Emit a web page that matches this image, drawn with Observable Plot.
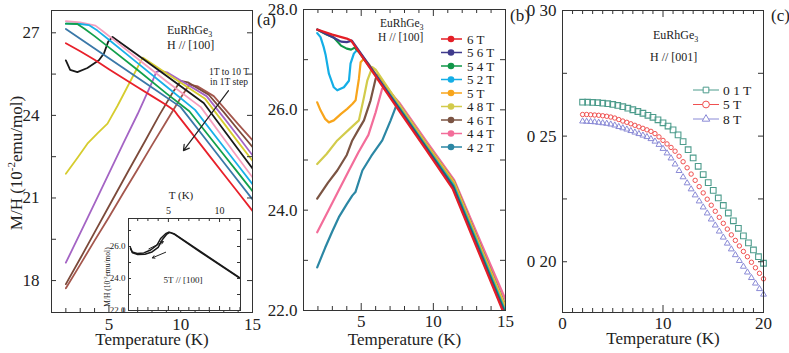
<!DOCTYPE html>
<html><head><meta charset="utf-8">
<script src="https://cdn.jsdelivr.net/npm/d3@7"></script>
<script src="https://cdn.jsdelivr.net/npm/@observablehq/plot@0.6"></script>
<style>
body{margin:0;background:#fff}
#wrap{position:relative;width:789px;height:353px;overflow:hidden;background:#fff}
#wrap svg{position:absolute;overflow:visible;max-width:none}
</style></head><body><div id="wrap"></div>
<script>
// ---------- Panel (a): EuRhGe3, H // [100], 1 T .. 10 T ----------
const aFields = ["1T","2T","3T","4T","5T","6T","7T","8T","9T","10T"];
const a1T = [[2.0,17.72],[3.0,18.58],[4.0,19.45],[5.0,20.3],[6.0,21.18],[6.95,22.0],[8.0,22.92],[9.0,23.78],[10.0,24.64],[10.6,25.12],[11.2,25.05],[12.3,24.7],[13.0,24.28],[14.0,23.68],[15.0,23.1]];
const a2T = [[2.0,17.87],[3.0,18.8],[4.0,19.75],[5.0,20.7],[6.37,22.0],[7.5,23.05],[8.5,24.0],[9.5,24.88],[10.0,25.25],[10.5,25.2],[11.95,24.75],[13.0,24.12],[14.0,23.48],[15.0,22.85]];
const a3T = [[2.0,18.65],[3.0,19.72],[4.0,20.8],[5.1,22.0],[6.0,22.98],[7.0,24.05],[8.0,25.2],[8.3,25.58],[8.6,25.62],[9.1,25.55],[11.8,24.7],[13.0,23.92],[14.0,23.24],[15.0,22.55]];
const a4T = [[2.0,21.88],[2.8,22.45],[3.5,22.97],[4.2,23.35],[4.9,23.7],[5.6,24.35],[6.4,25.15],[7.0,25.75],[7.35,26.1],[9.0,25.53],[11.7,24.6],[13.0,23.72],[14.0,23.03],[15.0,22.35]];
const a5T = [[2.0,26.0],[2.3,25.65],[2.8,25.57],[3.5,25.72],[4.3,26.0],[4.65,26.25],[4.95,26.68],[5.25,26.85],[7.0,26.19],[9.0,25.44],[11.6,24.45],[13.0,23.47],[14.0,22.77],[15.0,22.07]];
const a6T = [[2.0,27.42],[3.0,27.38],[4.06,27.26],[4.6,27.05],[5.5,26.68],[7.0,26.06],[9.0,25.24],[11.4,24.3],[13.0,23.16],[14.0,22.45],[15.0,21.75]];
const a7T = [[2.0,27.33],[3.0,27.32],[3.6,27.28],[4.2,27.08],[5.0,26.75],[7.0,25.9],[9.0,25.05],[11.0,24.2],[13.0,22.85],[14.0,22.18],[15.0,21.5]];
const a8T = [[2.0,27.33],[2.8,27.32],[3.3,27.15],[4.0,26.88],[5.0,26.47],[7.0,25.65],[9.0,24.8],[10.6,24.15],[13.0,22.57],[14.0,21.91],[15.0,21.25]];
const a9T = [[2.0,27.14],[4.0,26.43],[6.0,25.72],[8.0,25.01],[10.0,24.3],[12.0,22.96],[13.0,22.29],[15.0,20.95]];
const a10T = [[2.0,26.62],[3.0,26.33],[4.0,26.02],[5.0,25.68],[6.0,25.35],[7.0,25.02],[8.0,24.7],[9.0,24.38],[9.55,24.18],[9.8,24.0],[11.0,23.2],[12.0,22.53],[13.0,21.86],[14.0,21.2],[15.0,20.53]];
const aColors = ["#a4574d","#7c4a3a","#a464c4","#d6cc2e","#1a1a1a","#f59fbe","#18b0e8","#12a04c","#3a78a8","#e8202a"];
const aArrow = [{x1:13.33,y1:24.9,x2:10.19,y2:22.72}];

// inset: 5 T // [100], heating and cooling
const insetHeat = [[1.3,25.92],[1.46,25.66],[1.95,25.56],[2.6,25.6],[3.26,25.78],[3.9,26.1],[4.24,26.5],[4.73,26.8],[5.05,26.9],[5.54,26.8],[8.2,25.66],[12.0,24.04]];
const insetCool = [[1.3,25.86],[1.5,25.6],[2.0,25.5],[2.7,25.52],[3.4,25.66],[4.0,25.95],[4.4,26.42],[4.85,26.78],[5.15,26.88],[5.6,26.76],[8.2,25.62],[12.0,24.0]];
const insetArrows = [{x1:3.09,y1:25.85,x2:4.5,y2:26.3},{x1:4.73,y1:25.64,x2:3.43,y2:25.29}];

// ---------- Panel (b): EuRhGe3, H // [100], 4.2 .. 6 T ----------
const bNames = ["6 T","5 6 T","5 4 T","5 2 T","5 T","4 8 T","4 6 T","4 4 T","4 2 T"];
const b6T  = [[1.95,27.6],[3.0,27.5],[4.0,27.42],[4.3,27.38],[5.4,26.92],[7.7,25.95],[9.5,25.2],[11.33,24.43],[13.0,23.26],[15.0,21.86]];
const b56T = [[1.95,27.6],[3.0,27.45],[3.6,27.36],[4.0,27.35],[4.35,27.38],[5.4,26.95],[7.7,25.98],[9.5,25.23],[11.35,24.46],[13.0,23.3],[15.0,21.9]];
const b54T = [[1.95,27.6],[2.6,27.5],[3.1,27.44],[3.6,27.28],[4.0,27.22],[4.3,27.2],[4.55,27.24],[4.85,27.15],[7.7,26.0],[9.5,25.25],[11.37,24.48],[13.0,23.34],[15.0,21.94]];
const b52T = [[1.95,27.53],[2.18,27.45],[2.4,27.25],[2.53,27.1],[2.76,26.72],[3.1,26.45],[3.34,26.39],[3.8,26.45],[4.15,26.58],[4.26,26.92],[4.49,27.12],[4.73,27.2],[5.0,27.1],[7.7,26.02],[9.5,25.27],[11.4,24.5],[13.0,23.38],[15.0,21.98]];
const b5T  = [[1.95,26.15],[2.18,25.99],[2.5,25.82],[2.76,25.75],[3.1,25.79],[3.6,25.92],[4.03,26.02],[4.4,26.12],[4.61,26.19],[4.84,26.62],[4.96,26.95],[5.19,27.02],[5.5,26.92],[7.7,26.04],[9.5,25.3],[11.42,24.53],[13.0,23.42],[15.0,22.02]];
const b48T = [[1.95,24.92],[2.6,25.12],[3.34,25.39],[4.2,25.62],[4.84,25.79],[5.19,26.25],[5.42,26.58],[5.77,26.85],[6.0,26.8],[7.7,26.08],[9.5,25.33],[11.44,24.56],[13.0,23.46],[15.0,22.08]];
const b46T = [[1.95,24.23],[2.7,24.55],[3.34,24.79],[4.0,25.1],[4.38,25.39],[4.8,25.6],[5.19,25.79],[5.65,26.19],[6.0,26.62],[6.15,26.7],[7.7,26.08],[9.5,25.33],[11.45,24.56],[13.0,23.47],[15.0,22.1]];
const b44T = [[1.95,23.56],[2.7,23.98],[3.4,24.37],[4.15,24.79],[4.8,25.15],[5.5,25.5],[6.0,25.95],[6.45,26.42],[6.7,26.45],[7.7,26.12],[9.5,25.38],[11.45,24.6],[13.0,23.55],[15.0,22.22]];
const b42T = [[1.95,22.86],[2.5,23.25],[3.0,23.58],[3.45,23.86],[4.0,24.12],[4.38,24.29],[4.6,24.36],[5.08,24.79],[5.7,25.08],[6.46,25.39],[7.04,25.79],[7.45,26.1],[9.5,25.24],[11.38,24.45],[13.0,23.32],[15.0,22.0]];
const bColors = ["#e41e26","#3f3a8c","#109648","#14aee6","#f8a51b","#d2cb4b","#7b5443","#f36d9a","#2b87a4"];

// ---------- Panel (c): EuRhGe3, H // [001] ----------
const cNames = ["0 1 T","5 T","8 T"];
const sqT = [2,2.5,3,3.5,4,4.5,5,5.5,6,6.5,7,7.5,8,8.5,9,9.5,10,10.5,11,11.5,12,12.5,13,13.5,14,14.5,15,15.5,16,16.5,17,17.5,18,18.5,19,19.5,20];
const sqM = [.2635,.2635,.2634,.2633,.2631,.2629,.2626,.2622,.2617,.2611,.2605,.2598,.2591,.2583,.2575,.2565,.2553,.2540,.2525,.2505,.2478,.2446,.2413,.2380,.2347,.2315,.2284,.2254,.2224,.2194,.2163,.2133,.2103,.2075,.2047,.2020,.1994];
const ciT = [2.0,2.4,2.8,3.2,3.6,4.0,4.4,4.8,5.2,5.6,6.0,6.4,6.8,7.2,7.6,8.0,8.4,8.8,9.2,9.6,10.0,10.4,10.8,11.2,11.6,12.0,12.4,12.8,13.2,13.6,14.0,14.4,14.8,15.2,15.6,16.0,16.4,16.8,17.2,17.6,18.0,18.4,18.8,19.2,19.6,20.0];
const ciM = [.2586,.2586,.2585,.2584,.2583,.2581,.2579,.2576,.2572,.2566,.2560,.2555,.2549,.2543,.2537,.2531,.2525,.2519,.2510,.2497,.2483,.2469,.2455,.2440,.2420,.2398,.2374,.2349,.2324,.2299,.2274,.2249,.2225,.2201,.2177,.2153,.2130,.2107,.2085,.2063,.2041,.2020,.1998,.1976,.1954,.1932];
const trT = [2.0,2.4,2.8,3.2,3.6,4.0,4.4,4.8,5.2,5.6,6.0,6.4,6.8,7.2,7.6,8.0,8.4,8.8,9.2,9.6,10.0,10.4,10.8,11.2,11.6,12.0,12.4,12.8,13.2,13.6,14.0,14.4,14.8,15.2,15.6,16.0,16.4,16.8,17.2,17.6,18.0,18.4,18.8,19.2,19.6,20.0];
const trM = [.2559,.2558,.2557,.2556,.2554,.2552,.2550,.2547,.2543,.2537,.2532,.2527,.2521,.2515,.2509,.2503,.2497,.2489,.2479,.2466,.2450,.2432,.2412,.2388,.2362,.2337,.2313,.2289,.2265,.2241,.2217,.2193,.2169,.2145,.2121,.2097,.2073,.2050,.2027,.2004,.1981,.1958,.1936,.1914,.1892,.1870];
const cColors = ["#4d9c8c","#f05050","#8a8ad6"];
const cTickVals = [0.20,0.25,0.30];
const cTickLabels = ["0 20","0 25","0 30"];

// ---------- helpers ----------
const FONT = '"Liberation Serif","Times New Roman",serif';
const INK = "#222";
const wrap = document.getElementById("wrap");
const baseStyle = {fontFamily: FONT, color: INK, background: "transparent", overflow: "visible"};

function frameTicks(w, h, {xMinor = [], xMajor = [], yTicks = [], top = false, minor = 4, major = 7, ylen = 5}) {
  const s = {stroke: "#333", strokeWidth: 1};
  const m = [
    Plot.tickX(xMinor, {x: d => d, insetTop: h - minor, ...s}),
    Plot.tickX(xMajor, {x: d => d, insetTop: h - major, ...s}),
    Plot.tickY(yTicks, {y: d => d, insetRight: w - ylen, ...s}),
    Plot.tickY(yTicks, {y: d => d, insetLeft: w - ylen, ...s})
  ];
  if (top) m.push(
    Plot.tickX(xMinor, {x: d => d, insetBottom: h - minor, ...s}),
    Plot.tickX(xMajor, {x: d => d, insetBottom: h - major, ...s}));
  return m;
}
function place(svg, left, top) {
  svg.style.position = "absolute";
  svg.style.left = left + "px";
  svg.style.top = top + "px";
  wrap.appendChild(svg);
  return svg;
}
function txt(svg, x, y, parts, size, anchor = "start", transform = null) {
  const t = d3.select(svg).append("text").attr("x", x).attr("y", y)
    .attr("font-family", FONT).attr("font-size", size).attr("fill", INK).attr("text-anchor", anchor);
  if (transform) t.attr("transform", transform);
  for (const p of parts) {
    if (typeof p === "string") { t.append("tspan").text(p); continue; }
    const s = t.append("tspan").text(p.t);
    if (p.size) s.attr("font-size", p.size);
    if (p.dy) s.attr("dy", p.dy);
  }
  return t;
}
const rows = (series, names) => series.flatMap((pts, i) => pts.map(([T, M]) => ({field: names[i], T, M})));

// ---------- Panel (a) ----------
const aRows = rows([a1T,a2T,a3T,a4T,a5T,a6T,a7T,a8T,a9T,a10T], aFields);
const svgA = Plot.plot({
  width: 270, height: 353, marginLeft: 51, marginRight: 18, marginTop: 10, marginBottom: 41,
  x: {domain: [1, 15], label: null},
  y: {domain: [16.84, 27.81], label: null},
  color: {domain: aFields, range: aColors},
  style: baseStyle,
  marks: [
    Plot.line(aRows, {x: "T", y: "M", z: "field", stroke: "field", strokeWidth: 1.8, clip: true}),
    ...frameTicks(201, 302, {xMinor: [2,3,4,6,7,8,9,11,12,13,14], xMajor: [5,10], yTicks: [18,19.5,21,22.5,24,25.5,27]}),
    Plot.frame({stroke: "#333"}),
    Plot.axisX({ticks: [5,10,15], tickSize: 0, tickPadding: 5, fontSize: 17, label: null}),
    Plot.axisY({ticks: [18,21,24,27], tickSize: 0, tickPadding: 12, fontSize: 17, label: null}),
    Plot.arrow(aArrow, {x1: "x1", y1: "y1", x2: "x2", y2: "y2", stroke: "#222", strokeWidth: 1.2, headLength: 8}),
    Plot.text(["Temperature (K)"], {frameAnchor: "bottom", dy: 32, fontSize: 17, text: d => d})
  ]
});
place(svgA, 0, 0);
txt(svgA, 0, 0, ["M/H (10", {t: "-2", size: 11, dy: -7}, {t: "emu/mol)", dy: 7}], 17, "middle", "translate(22,163) rotate(-90)");
txt(svgA, 257, 25, ["(a)"], 17);
txt(svgA, 167, 34, ["EuRhGe", {t: "3", size: 8, dy: 3}], 12);
txt(svgA, 167, 49, ["H // [100]"], 12);
txt(svgA, 229, 75, ["1T to 10 T"], 9.5, "middle");
txt(svgA, 229, 85, ["in 1T step"], 9.5, "middle");

// ---------- Inset ----------
const insetRows = rows([insetHeat, insetCool], ["heat", "cool"]);
const svgI = Plot.plot({
  width: 150, height: 135, marginLeft: 28, marginRight: 10, marginTop: 33, marginBottom: 10,
  x: {domain: [1.1, 12.05], label: null},
  y: {domain: [22, 27.75], label: null},
  style: baseStyle,
  marks: [
    Plot.frame({fill: "white", stroke: "none"}),
    Plot.line(insetRows, {x: "T", y: "M", z: "field", stroke: "#1a1a1a", strokeWidth: 1.5, clip: true}),
    ...frameTicks(112, 92, {xMinor: [2,3,4,6,7,8,9,11,12], xMajor: [5,10], yTicks: [23,24,25,26,27], top: true, minor: 3, major: 4, ylen: 3}),
    Plot.frame({stroke: "#333"}),
    Plot.axisX({anchor: "top", ticks: [5,10], tickSize: 0, tickPadding: 5, fontSize: 10, label: null}),
    Plot.axisY({ticks: [22,24,26], tickSize: 0, tickPadding: 3, fontSize: 9, label: null}),
    Plot.arrow(insetArrows, {x1: "x1", y1: "y1", x2: "x2", y2: "y2", stroke: "#222", strokeWidth: 1, headLength: 4})
  ]
});
place(svgI, 100, 185);
txt(svgI, 81, 14, ["T (K)"], 11, "middle");
txt(svgI, 0, 0, ["M/H (10", {t: "-2", size: 5, dy: -3}, {t: "emu/mol)", dy: 3}], 7.5, "middle", "translate(10,92) rotate(-90)");
txt(svgI, 83, 98, ["5T // [100]"], 9, "middle");

// ---------- Panel (b) ----------
const bRows = rows([b42T,b44T,b46T,b48T,b5T,b52T,b54T,b56T,b6T],
  ["4 2 T","4 4 T","4 6 T","4 8 T","5 T","5 2 T","5 4 T","5 6 T","6 T"]);
const svgB = Plot.plot({
  width: 270, height: 353, marginLeft: 43, marginRight: 25, marginTop: 9, marginBottom: 43,
  x: {domain: [1, 15], label: null},
  y: {domain: [22, 28], label: null},
  color: {domain: bNames, range: bColors},
  style: baseStyle,
  marks: [
    Plot.line(bRows, {x: "T", y: "M", z: "field", stroke: "field", strokeWidth: 2.2, clip: true}),
    ...frameTicks(202, 301, {xMinor: [2,3,4,6,7,8,9,11,12,13,14], xMajor: [5,10], yTicks: [23,24,25,26,27], top: true}),
    Plot.frame({stroke: "#333"}),
    Plot.axisX({ticks: [5,10,15], tickSize: 0, tickPadding: 4, fontSize: 17, label: null}),
    Plot.axisY({ticks: [22,24,26,28], tickSize: 0, tickPadding: 6, fontSize: 17, label: null}),
    Plot.text(["Temperature (K)"], {frameAnchor: "bottom", dy: 34, fontSize: 17, text: d => d})
  ]
});
place(svgB, 260, 0);
txt(svgB, 250, 21, ["(b)"], 17);
txt(svgB, 120, 27, ["EuRhGe", {t: "3", size: 8, dy: 3}], 11.5);
txt(svgB, 118, 41, ["H // [100]"], 11.5);
{
  const g = d3.select(svgB).append("g");
  bNames.forEach((n, i) => {
    const y = 39 + i * 13.5;
    g.append("line").attr("x1", 181).attr("x2", 202).attr("y1", y).attr("y2", y).attr("stroke", bColors[i]).attr("stroke-width", 1.5);
    g.append("circle").attr("cx", 191).attr("cy", y).attr("r", 3.3).attr("fill", bColors[i]);
    txt(svgB, 207, y + 4.5, [n], 13);
  });
}

// ---------- Panel (c) ----------
const sqRows = sqT.map((T, i) => ({T, M: sqM[i]}));
const ciRows = ciT.map((T, i) => ({T, M: ciM[i]}));
const trRows = trT.map((T, i) => ({T, M: trM[i]}));
const svgC = Plot.plot({
  width: 269, height: 353, marginLeft: 42, marginRight: 26, marginTop: 10, marginBottom: 41,
  x: {domain: [0, 20], label: null},
  y: {domain: [0.1798, 0.30], label: null},
  style: baseStyle,
  marks: [
    Plot.dot(sqRows, {x: "T", y: "M", symbol: "square", r: 3.2, stroke: cColors[0], fill: "none", strokeWidth: 1.1}),
    Plot.dot(ciRows, {x: "T", y: "M", symbol: "circle", r: 2.2, stroke: cColors[1], fill: "none", strokeWidth: 1}),
    Plot.dot(trRows, {x: "T", y: "M", symbol: "triangle", r: 2.2, stroke: cColors[2], fill: "none", strokeWidth: 1}),
    ...frameTicks(201, 302, {xMinor: [1,2,3,4,5,6,7,8,9,11,12,13,14,15,16,17,18,19], xMajor: [10], yTicks: [0.20,0.225,0.25,0.275], top: true}),
    Plot.frame({stroke: "#333"}),
    Plot.axisX({ticks: [0,10,20], tickSize: 0, tickPadding: 4, fontSize: 17, label: null}),
    Plot.axisY({ticks: cTickVals, tickSize: 0, tickPadding: 6, fontSize: 17, label: null,
      tickFormat: d => cTickLabels[cTickVals.indexOf(d)]}),
    Plot.text(["Temperature (K)"], {frameAnchor: "bottom", dy: 31, fontSize: 17, text: d => d})
  ]
});
place(svgC, 520, 0);
txt(svgC, 251, 21, ["(c)"], 17);
txt(svgC, 133, 39, ["EuRhGe", {t: "3", size: 8, dy: 3}], 12);
txt(svgC, 130, 61, ["H // [001]"], 12);
{
  const g = d3.select(svgC).append("g");
  const syms = [[d3.symbolSquare, 3.2], [d3.symbolCircle, 3.4], [d3.symbolTriangle, 2.8]];
  cNames.forEach((n, i) => {
    const y = 90 + i * 14.5;
    g.append("line").attr("x1", 173).attr("x2", 199).attr("y1", y).attr("y2", y).attr("stroke", cColors[i]).attr("stroke-width", 1);
    const [sym, r] = syms[i];
    g.append("path").attr("d", d3.symbol(sym, r * r * Math.PI)()).attr("transform", `translate(186,${y})`)
      .attr("fill", "white").attr("stroke", cColors[i]).attr("stroke-width", 1);
    txt(svgC, 203, y + 4.5, [n], 13.5);
  });
}
</script></body></html>
